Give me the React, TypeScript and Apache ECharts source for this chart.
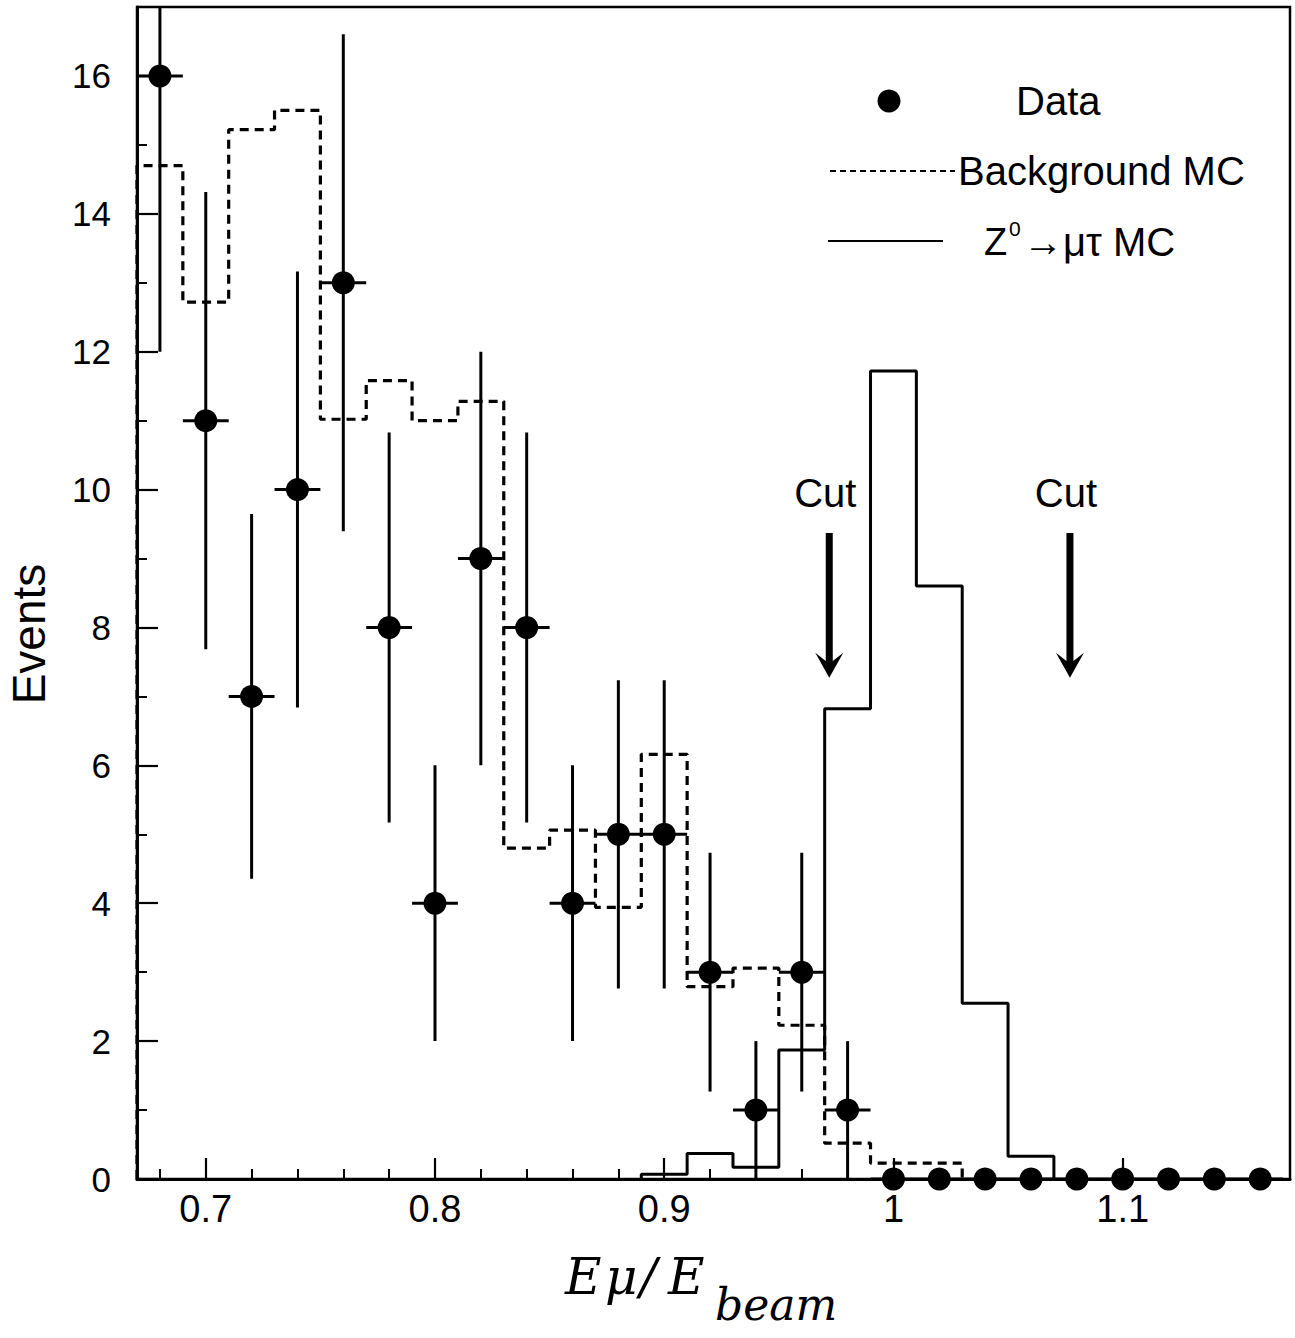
import React, { useEffect, useRef } from "react";
import * as echarts from "echarts";

// ---- axis ranges ----
const X_MIN = 0.67;
const X_MAX = 1.173;
const Y_MIN = 0;
const Y_MAX = 17;
const BIN_HALF_WIDTH = 0.01;

// ---- tick positions / labels ----
const xMajorTicks = [0.7, 0.8, 0.9, 1.0, 1.1];
const xMinorTicks = [0.68, 0.72, 0.74, 0.76, 0.78, 0.82, 0.84, 0.86, 0.88, 0.92, 0.94, 0.96, 0.98, 1.02, 1.04, 1.06, 1.08, 1.12, 1.14, 1.16];
const yMajorTicks = [0, 2, 4, 6, 8, 10, 12, 14, 16];
const yMinorTicks = [1, 3, 5, 7, 9, 11, 13, 15];

// ---- data points ----
const dataCenters = [0.68, 0.7, 0.72, 0.74, 0.76, 0.78, 0.8, 0.82, 0.84, 0.86, 0.88, 0.9, 0.92, 0.94, 0.96, 0.98, 1.0, 1.02, 1.04, 1.06, 1.08, 1.1, 1.12, 1.14, 1.16];
const dataEvents = [16, 11, 7, 10, 13, 8, 4, 9, 8, 4, 5, 5, 3, 1, 3, 1, 0, 0, 0, 0, 0, 0, 0, 0, 0];

// ---- background MC (dashed histogram) ----
const bgCenters = [0.68, 0.7, 0.72, 0.74, 0.76, 0.78, 0.8, 0.82, 0.84, 0.86, 0.88, 0.9, 0.92, 0.94, 0.96, 0.98, 1.0, 1.02];
const bgValues = [14.7, 12.72, 15.22, 15.5, 11.02, 11.58, 11.0, 11.28, 4.8, 5.06, 3.94, 6.16, 2.79, 3.06, 2.23, 0.52, 0.23, 0.23];

// ---- Z0 -> mu tau MC (solid histogram) ----
const sigCenters = [0.9, 0.92, 0.94, 0.96, 0.98, 1.0, 1.02, 1.04, 1.06];
const sigValues = [0.07, 0.37, 0.17, 1.87, 6.82, 11.72, 8.6, 2.55, 0.33];

// ---- cuts ----
const cutPositions = [0.972, 1.077];
const cutArrowTop = 9.37;
const cutArrowTip = 7.27;
const cutLabelLevel = 9.95;

const SANS = '"Liberation Sans", Arial, Helvetica, sans-serif';
const SERIF = '"DejaVu Serif", serif';

function histogramSteps(centers: number[], values: number[]) {
  const pts: number[][] = [[centers[0] - BIN_HALF_WIDTH, 0]];
  centers.forEach((c, i) => pts.push([c - BIN_HALF_WIDTH, values[i]]));
  pts.push([centers[centers.length - 1] + BIN_HALF_WIDTH, 0]);
  return pts;
}

function textStyle(text: string, size: number, family: string, extra: any = {}) {
  return {
    text,
    x: 0,
    y: 0,
    fill: "#000",
    fontSize: size,
    fontFamily: family,
    align: "left",
    textAlign: "left",
    verticalAlign: "middle",
    textVerticalAlign: "middle",
    ...extra,
  };
}

export default function App() {
  const ref = useRef<HTMLDivElement>(null);

  useEffect(() => {
    if (!ref.current) return;
    const chart = echarts.init(ref.current, undefined, { renderer: "svg" });

    const points = dataCenters.map((c, i) => [c, dataEvents[i]]);

    const option: any = {
      animation: false,
      backgroundColor: "#fff",
      grid: {
        left: 137,
        right: 5,
        top: 7,
        bottom: 159,
        show: true,
        borderColor: "#000",
        borderWidth: 2.5,
        backgroundColor: "transparent",
        outerBoundsMode: "none",
        containLabel: false,
      },
      xAxis: [
        {
          type: "value",
          min: X_MIN,
          max: X_MAX,
          position: "bottom",
          axisLine: { show: true, onZero: false, lineStyle: { color: "#000", width: 3 } },
          axisTick: { show: true, inside: true, length: 21, customValues: xMajorTicks, lineStyle: { color: "#000", width: 2.2 } },
          axisLabel: {
            show: true,
            customValues: xMajorTicks,
            margin: 11,
            color: "#000",
            fontSize: 38,
            fontFamily: SANS,
            formatter: (v: number) => String(Math.round(v * 10) / 10),
          },
          splitLine: { show: false },
        },
        {
          type: "value",
          min: X_MIN,
          max: X_MAX,
          position: "bottom",
          axisLine: { show: false },
          axisTick: { show: true, inside: true, length: 10, customValues: xMinorTicks, lineStyle: { color: "#000", width: 2 } },
          axisLabel: { show: false },
          splitLine: { show: false },
        },
      ],
      yAxis: [
        {
          type: "value",
          min: Y_MIN,
          max: Y_MAX,
          position: "left",
          axisLine: { show: true, onZero: false, lineStyle: { color: "#000", width: 3 } },
          axisTick: { show: true, inside: true, length: 21, customValues: yMajorTicks, lineStyle: { color: "#000", width: 2.2 } },
          axisLabel: {
            show: true,
            customValues: yMajorTicks,
            margin: 26,
            color: "#000",
            fontSize: 35,
            fontFamily: SANS,
          },
          splitLine: { show: false },
        },
        {
          type: "value",
          min: Y_MIN,
          max: Y_MAX,
          position: "left",
          axisLine: { show: false },
          axisTick: { show: true, inside: true, length: 10, customValues: yMinorTicks, lineStyle: { color: "#000", width: 2 } },
          axisLabel: { show: false },
          splitLine: { show: false },
        },
      ],
      series: [
        {
          name: "Background MC",
          type: "line",
          xAxisIndex: 0,
          yAxisIndex: 0,
          step: "end",
          symbol: "none",
          showSymbol: false,
          data: histogramSteps(bgCenters, bgValues),
          lineStyle: { color: "#000", width: 3.2, type: [9, 6] },
          z: 2,
        },
        {
          name: "Z0 -> mu tau MC",
          type: "line",
          xAxisIndex: 0,
          yAxisIndex: 0,
          step: "end",
          symbol: "none",
          showSymbol: false,
          data: histogramSteps(sigCenters, sigValues),
          lineStyle: { color: "#000", width: 3 },
          z: 2,
        },
        {
          name: "Data errors",
          type: "custom",
          xAxisIndex: 0,
          yAxisIndex: 0,
          data: points,
          encode: { x: 0, y: 1 },
          z: 3,
          renderItem: (params: any, api: any) => {
            const x = api.value(0);
            const y = api.value(1);
            const children: any[] = [];
            const l = api.coord([x - BIN_HALF_WIDTH, y]);
            const r = api.coord([x + BIN_HALF_WIDTH, y]);
            children.push({
              type: "line",
              shape: { x1: l[0], y1: l[1], x2: r[0], y2: r[1] },
              style: { stroke: "#000", lineWidth: 3 },
            });
            if (y > 0) {
              const err = Math.sqrt(y);
              const top = api.coord([x, Math.min(y + err, Y_MAX)]);
              const bot = api.coord([x, Math.max(y - err, Y_MIN)]);
              children.push({
                type: "line",
                shape: { x1: top[0], y1: top[1], x2: bot[0], y2: bot[1] },
                style: { stroke: "#000", lineWidth: 3 },
              });
            }
            return { type: "group", children };
          },
        },
        {
          name: "Data",
          type: "scatter",
          xAxisIndex: 0,
          yAxisIndex: 0,
          data: points,
          symbol: "circle",
          symbolSize: 23,
          clip: false,
          itemStyle: { color: "#000", opacity: 1 },
          z: 4,
        },
        {
          name: "Cuts",
          type: "custom",
          xAxisIndex: 0,
          yAxisIndex: 0,
          data: cutPositions.map((c) => [c, cutArrowTip]),
          encode: { x: 0, y: 1 },
          z: 5,
          renderItem: (params: any, api: any) => {
            const x = api.value(0);
            const tip = api.coord([x, cutArrowTip]);
            const top = api.coord([x, cutArrowTop]);
            const lbl = api.coord([x, cutLabelLevel]);
            return {
              type: "group",
              children: [
                {
                  type: "text",
                  style: {
                    text: "Cut",
                    x: lbl[0] - 4,
                    y: lbl[1],
                    fill: "#000",
                    fontSize: 40,
                    fontFamily: SANS,
                    align: "center",
                    textAlign: "center",
                    verticalAlign: "middle",
                    textVerticalAlign: "middle",
                  },
                },
                {
                  type: "rect",
                  shape: { x: top[0] - 3.5, y: top[1], width: 7, height: tip[1] - top[1] - 12 },
                  style: { fill: "#000" },
                },
                {
                  type: "polygon",
                  shape: {
                    points: [
                      [tip[0] - 14, tip[1] - 25],
                      [tip[0], tip[1] - 14],
                      [tip[0] + 14, tip[1] - 25],
                      [tip[0], tip[1]],
                    ],
                  },
                  style: { fill: "#000" },
                },
              ],
            };
          },
        },
      ],
      graphic: {
        elements: [
          // Legend
          { type: "circle", shape: { cx: 889, cy: 101, r: 11.5 }, style: { fill: "#000" }, z: 10 },
          { type: "text", x: 1016, y: 101, style: textStyle("Data", 40, SANS), z: 10 },
          { type: "line", shape: { x1: 830, y1: 171, x2: 955, y2: 171 }, style: { stroke: "#000", lineWidth: 2, lineDash: [6, 4] }, z: 10 },
          { type: "text", x: 958, y: 171, style: textStyle("Background MC", 40, SANS), z: 10 },
          { type: "line", shape: { x1: 828, y1: 241, x2: 943, y2: 241 }, style: { stroke: "#000", lineWidth: 2 }, z: 10 },
          { type: "text", x: 984, y: 242, style: textStyle("Z", 38, SANS), z: 10 },
          { type: "text", x: 1009, y: 228, style: textStyle("0", 21, SANS), z: 10 },
          { type: "text", x: 1023, y: 242, style: textStyle("\u2192\u03bc\u03c4 MC", 40, SANS), z: 10 },
          // y axis title
          {
            type: "text",
            x: 29,
            y: 634,
            rotation: Math.PI / 2,
            style: textStyle("Events", 46, SANS, { align: "center", textAlign: "center" }),
            z: 10,
          },
          // x axis title: E mu / E_beam
          { type: "text", x: 565, y: 1277, style: textStyle("E", 50, SERIF, { fontStyle: "italic" }), z: 10 },
          { type: "text", x: 605, y: 1277, style: textStyle("\u03bc", 50, SERIF, { fontStyle: "italic" }), z: 10 },
          { type: "text", x: 640, y: 1277, style: textStyle("/", 50, SERIF, { fontStyle: "italic" }), z: 10 },
          { type: "text", x: 668, y: 1277, style: textStyle("E", 50, SERIF, { fontStyle: "italic" }), z: 10 },
          { type: "text", x: 715, y: 1304, style: textStyle("beam", 44, SERIF, { fontStyle: "italic" }), z: 10 },
        ],
      },
    };

    chart.setOption(option);
    return () => {
      chart.dispose();
    };
  }, []);

  return (
    <div
      ref={ref}
      style={{ position: "fixed", left: 0, top: 0, width: 1295, height: 1338, background: "#fff" }}
    />
  );
}
